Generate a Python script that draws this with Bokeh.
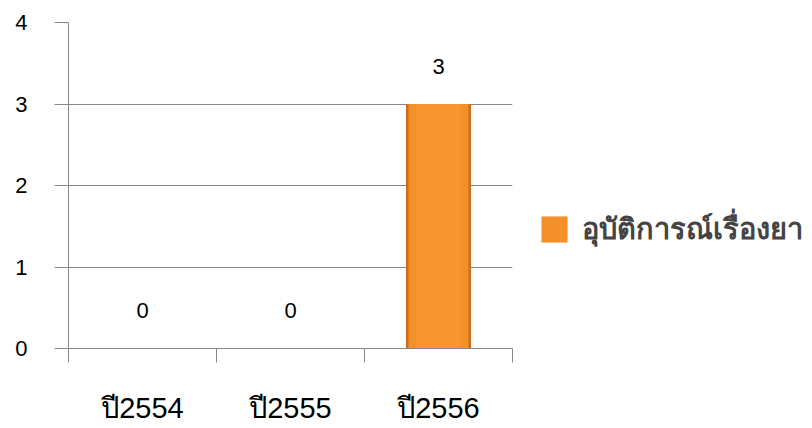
from bokeh.plotting import figure
from bokeh.models import (ColumnDataSource, Range1d, LabelSet, Legend, LegendItem,
                          LinearAxis, FixedTicker, CustomJSTickFormatter, CategoricalAxis)
from bokeh.core.properties import value
from bokeh.embed import file_html
from bokeh.resources import INLINE

years = ["ปี2554", "ปี2555", "ปี2556"]
counts = [0, 0, 3]
series_name = "อุบัติการณ์เรื่องยา"
y_ticks = [0, 1, 2, 3, 4]
boundaries = [0, 1, 2, 3]

src = ColumnDataSource(dict(x=years, top=counts, lbl=[str(v) for v in counts]))

p = figure(x_range=years, y_range=Range1d(0, 4),
           frame_width=444, frame_height=326,
           output_backend="svg", toolbar_location=None,
           min_border_left=68, min_border_top=22, min_border_bottom=64,
           min_border_right=280, x_axis_location=None)
p.outline_line_color = None
p.background_fill_color = "white"

GRAY = "#868686"

# gridlines
p.ygrid.ticker = FixedTicker(ticks=y_ticks)
p.ygrid.grid_line_color = GRAY
p.ygrid.grid_line_width = 1
p.xgrid.grid_line_color = None

# y axis
ya = p.yaxis[0]
ya.ticker = FixedTicker(ticks=y_ticks)
ya.axis_line_color = GRAY
ya.major_tick_line_color = GRAY
ya.major_tick_out = 14
ya.major_tick_in = 0
ya.minor_tick_line_color = None
ya.major_label_standoff = 27
ya.major_label_text_font = "Liberation Sans"
ya.major_label_text_font_size = "22px"
ya.major_label_text_color = "black"

# boundary tick axis
bax = LinearAxis(ticker=FixedTicker(ticks=boundaries),
                 formatter=CustomJSTickFormatter(code="return ''"))
bax.axis_line_color = GRAY
bax.major_tick_line_color = GRAY
bax.major_tick_out = 14
bax.major_tick_in = 0
bax.minor_tick_line_color = None
bax.major_label_standoff = 0
bax.major_label_text_font_size = "1px"
p.add_layout(bax, "below")

# category label axis
cax = CategoricalAxis()
cax.axis_line_color = None
cax.major_tick_line_color = None
cax.minor_tick_line_color = None
cax.major_label_standoff = 23
cax.major_label_text_font = "Liberation Sans"
cax.major_label_text_font_size = "29px"
cax.major_label_text_color = "black"
p.add_layout(cax, "below")

# bars (bevel effect with layers)
r1 = p.vbar(x="x", top="top", bottom=0, width=0.44, source=src,
            fill_color="#C96E22", line_color=None)
r2 = p.vbar(x="x", top="top", bottom=0, width=0.405, source=src,
            fill_color="#F39029", line_color=None)
r3 = p.vbar(x="x", top="top", bottom=0, width=0.30, source=src,
            fill_color="#F7962F", line_color=None)

labels = LabelSet(x="x", y="top", text="lbl", source=src, y_offset=38,
                  text_align="center", text_baseline="middle",
                  text_font=value("Liberation Sans"), text_font_size="22px",
                  text_color="black")
p.add_layout(labels)

legend = Legend(items=[LegendItem(label=series_name, renderers=[r1, r2])],
                location=(26, 96), glyph_width=32, glyph_height=32,
                label_text_font_size="29px", label_text_font_style="bold",
                label_text_font="Liberation Sans", label_standoff=12,
                padding=0, margin=0, spacing=0,
                border_line_color=None, background_fill_alpha=0)
p.add_layout(legend, "right")

open("out.html", "w").write(file_html(p, INLINE))
